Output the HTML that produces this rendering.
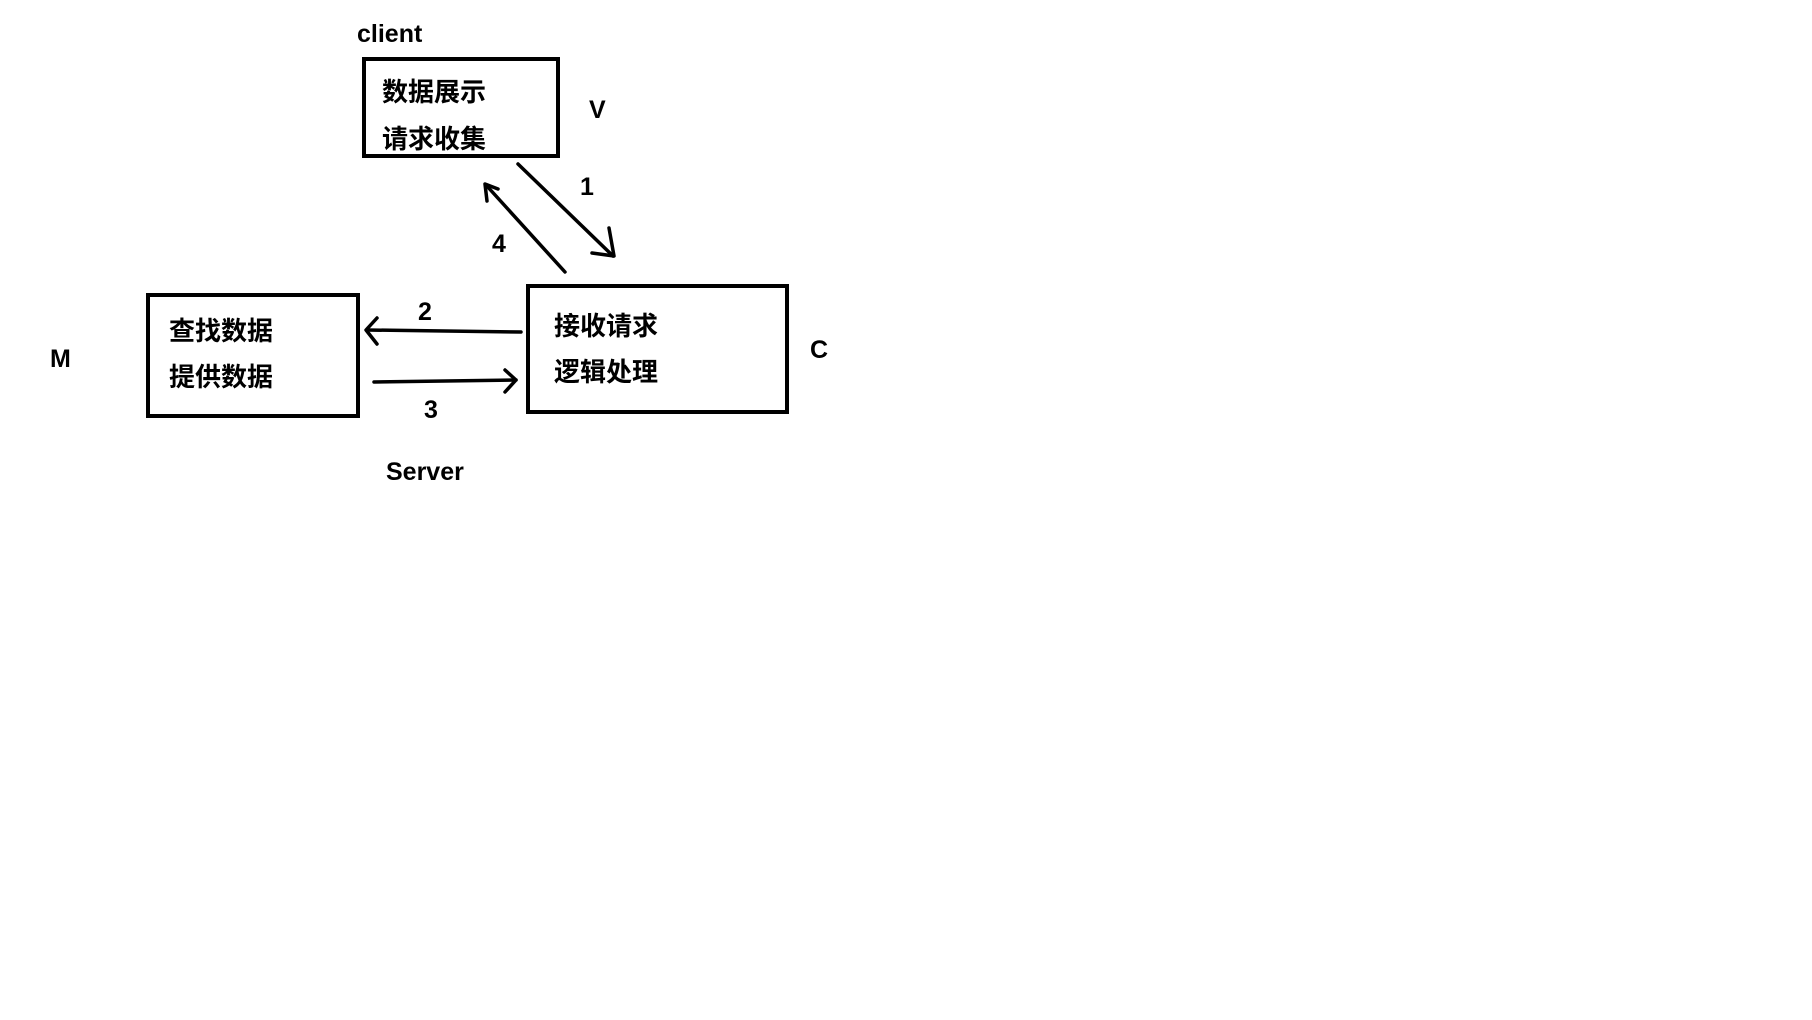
<!DOCTYPE html>
<html><head><meta charset="utf-8"><style>
html,body{margin:0;padding:0;background:#fff;}
svg{display:block}
text{font-family:"Liberation Sans","Noto Sans CJK SC",sans-serif;font-weight:bold;fill:#000}
</style></head><body>
<svg width="1812" height="1020" viewBox="0 0 1812 1020" xmlns="http://www.w3.org/2000/svg">
<g fill="none" stroke="#000" stroke-width="4">
<rect x="364" y="59" width="194" height="97"/>
<rect x="148" y="295" width="210" height="121"/>
<rect x="528" y="286" width="259" height="126"/>
</g>
<g fill="none" stroke="#000" stroke-width="3.5" stroke-linecap="round" stroke-linejoin="round">
<line x1="518" y1="164" x2="613" y2="256"/>
<polyline points="609,228 614,256 592,253"/>
<line x1="565" y1="272" x2="486" y2="185"/>
<polyline points="487,201 485,184 498,189"/>
<line x1="521" y1="332" x2="367" y2="330"/>
<polyline points="377,318 366,330 377,344"/>
<line x1="374" y1="382" x2="516" y2="380"/>
<polyline points="505,370 516,380 505,392"/>
</g>
<g font-size="25">
<text x="357" y="42">client</text>
<text x="589" y="118">V</text>
<text x="580" y="195">1</text>
<text x="492" y="252">4</text>
<text x="418" y="320">2</text>
<text x="424" y="418">3</text>
<text x="50" y="367">M</text>
<text x="810" y="358">C</text>
<text x="386" y="480">Server</text>
</g>
<g font-size="26">
<text x="382" y="101">数据展示</text>
<text x="382" y="148">请求收集</text>
<text x="169" y="340">查找数据</text>
<text x="169" y="386">提供数据</text>
<text x="554" y="335">接收请求</text>
<text x="554" y="381">逻辑处理</text>
</g>
</svg>
</body></html>
